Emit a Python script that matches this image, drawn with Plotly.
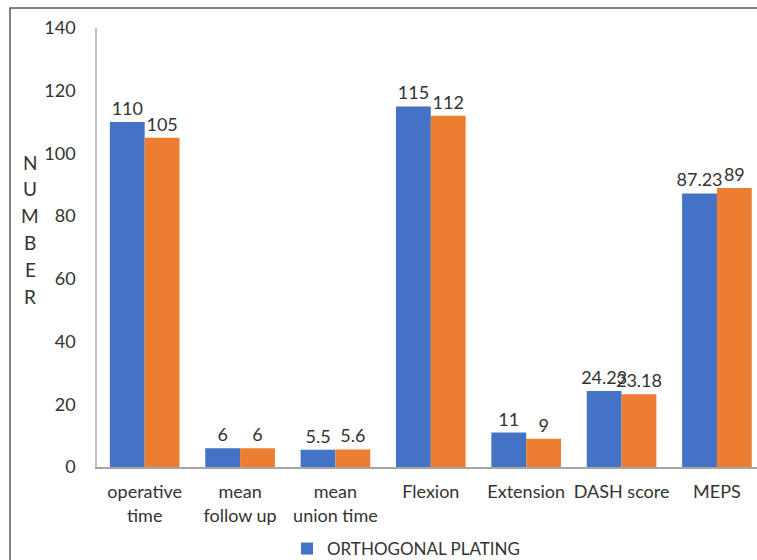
import plotly.graph_objects as go

categories = ["operative<br>time", "mean<br>follow up", "mean<br>union time", "Flexion",
              "Extension", "DASH score", "MEPS"]
orthogonal = [110, 6, 5.5, 115, 11, 24.23, 87.23]
parallel = [105, 6, 5.6, 112, 9, 23.18, 89]
orth_labels = ["110", "6", "5.5", "115", "11", "24.23", "87.23"]
par_labels = ["105", "6", "5.6", "112", "9", "23.18", "89"]
y_ticks = [0, 20, 40, 60, 80, 100, 120, 140]

FONT = "Lato, Liberation Sans, sans-serif"
TXT = "#333333"

W, H = 757, 560
ML, MR, MT, MB = 97, 0, 28, 93
PW, PH = W - ML - MR, H - MT - MB

fig = go.Figure()
fig.add_trace(go.Bar(
    x=categories, y=orthogonal, name="ORTHOGONAL PLATING",
    marker=dict(color="#4472C4", line=dict(width=0)),
    text=orth_labels, textposition="outside", constraintext="none", cliponaxis=False,
    textfont=dict(family=FONT, size=18, color=TXT), hoverinfo="skip"))
fig.add_trace(go.Bar(
    x=categories, y=parallel, name="PARALLEL PLATING", showlegend=False,
    marker=dict(color="#ED7D31", line=dict(width=0)),
    text=par_labels, textposition="outside", constraintext="none", cliponaxis=False,
    textfont=dict(family=FONT, size=18, color=TXT), hoverinfo="skip"))

# vertical stacked axis title
letters = list("NUMBER")
annos = []
for i, ch in enumerate(letters):
    ypx = 162 + i * 26.8
    annos.append(dict(text=ch, xref="paper", yref="paper",
                      x=(30 - ML) / PW, y=(H - MB - ypx) / PH,
                      xanchor="center", yanchor="middle", showarrow=False,
                      font=dict(family=FONT, size=19, color=TXT)))

fig.update_layout(
    width=W, height=H,
    margin=dict(l=ML, r=MR, t=MT, b=MB, autoexpand=False),
    paper_bgcolor="white", plot_bgcolor="white",
    barmode="group", bargap=0.27, bargroupgap=0,
    font=dict(family=FONT, size=18, color=TXT),
    xaxis=dict(range=[-0.5, 6.42], showgrid=False, showline=True,
               linecolor="#A6A6A6", linewidth=1.5, ticks="", automargin=False,
               tickfont=dict(family=FONT, size=18, color=TXT),
               ticklabelstandoff=8, fixedrange=True),
    yaxis=dict(range=[0, 140], tickvals=y_ticks, showgrid=False, showline=True,
               linecolor="#BFBFBF", linewidth=1.5, ticks="", zeroline=False,
               automargin=False,
               tickfont=dict(family=FONT, size=18, color=TXT),
               ticklabelstandoff=16, fixedrange=True),
    showlegend=True,
    legend=dict(orientation="h", x=(287 - ML) / PW, xanchor="left",
                y=(H - MB - 549) / PH, yanchor="middle",
                font=dict(family=FONT, size=17, color=TXT),
                bgcolor="rgba(0,0,0,0)"),
    annotations=annos,
    shapes=[dict(type="rect", xref="paper", yref="paper",
                 x0=(10 - ML) / PW, x1=1.2,
                 y0=-0.5, y1=1 + (MT - 8) / PH,
                 line=dict(color="#595959", width=1.5), layer="below")],
)

fig.write_html("out.html")
